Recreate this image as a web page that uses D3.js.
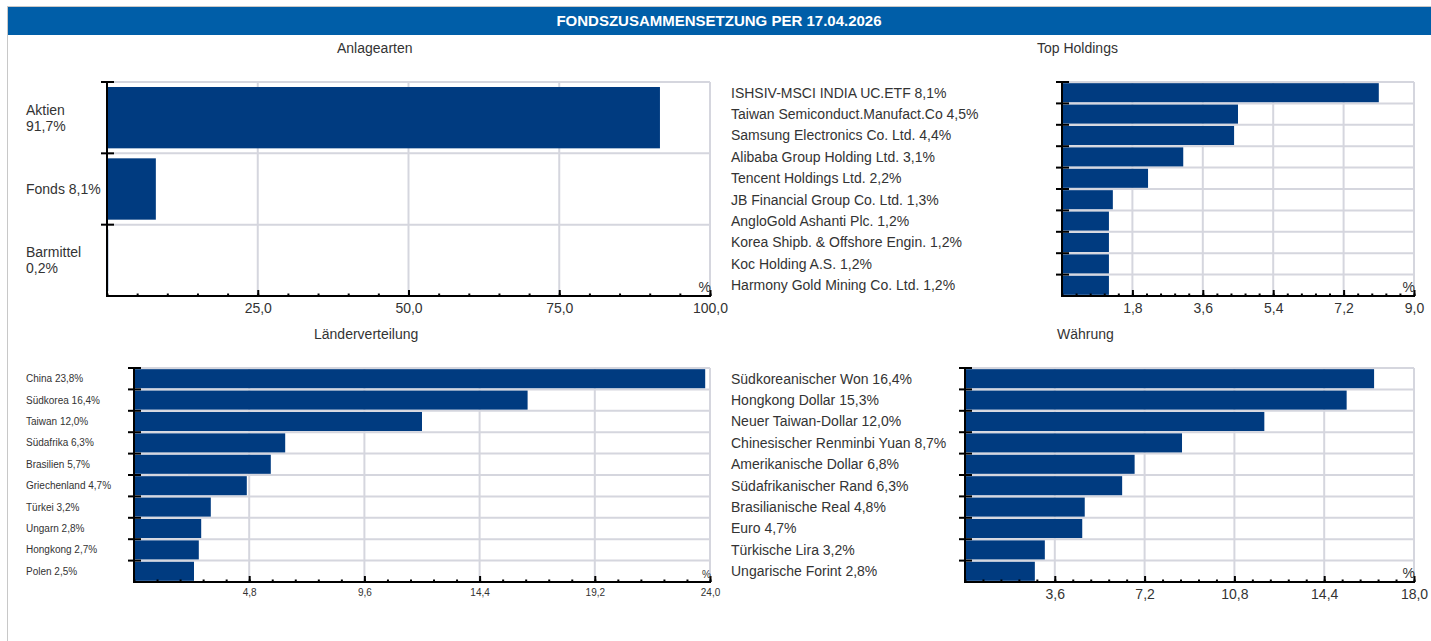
<!DOCTYPE html>
<head>
<meta charset="utf-8">
<style>
  body { margin: 0; background: white; font-family: "Liberation Sans", Arial, sans-serif; }
  text { fill: #333; }
  .grid { stroke: #d5d6de; stroke-width: 2px; }
  .bar { fill: #003b80; }
  .achse { stroke: black; stroke-width: 2px; }
</style>
</head>
<body>
<svg width="1431" height="641"></svg>
<script src="https://cdn.jsdelivr.net/npm/d3@7"></script>
<script>

// --- data ---
var anlageKategorien = ["Aktien", "Fonds", "Barmittel"];
var anlageWerte = [91.7, 8.1, 0.2];
var anlageUmbruch = [true, false, true];
var anlageTicks = [25, 50, 75, 100];

var holdingNamen = ["ISHSIV-MSCI INDIA UC.ETF", "Taiwan Semiconduct.Manufact.Co", "Samsung Electronics Co. Ltd.",
  "Alibaba Group Holding Ltd.", "Tencent Holdings Ltd.", "JB Financial Group Co. Ltd.", "AngloGold Ashanti Plc.",
  "Korea Shipb. & Offshore Engin.", "Koc Holding A.S.", "Harmony Gold Mining Co. Ltd."];
var holdingWerte = [8.1, 4.5, 4.4, 3.1, 2.2, 1.3, 1.2, 1.2, 1.2, 1.2];
var holdingTicks = [1.8, 3.6, 5.4, 7.2, 9.0];

var laenderNamen = ["China", "Südkorea", "Taiwan", "Südafrika", "Brasilien", "Griechenland", "Türkei", "Ungarn", "Hongkong", "Polen"];
var laenderWerte = [23.8, 16.4, 12.0, 6.3, 5.7, 4.7, 3.2, 2.8, 2.7, 2.5];
var laenderTicks = [4.8, 9.6, 14.4, 19.2, 24.0];

var waehrungNamen = ["Südkoreanischer Won", "Hongkong Dollar", "Neuer Taiwan-Dollar", "Chinesischer Renminbi Yuan",
  "Amerikanische Dollar", "Südafrikanischer Rand", "Brasilianische Real", "Euro", "Türkische Lira", "Ungarische Forint"];
var waehrungWerte = [16.4, 15.3, 12.0, 8.7, 6.8, 6.3, 4.8, 4.7, 3.2, 2.8];
var waehrungTicks = [3.6, 7.2, 10.8, 14.4, 18.0];

var fmt = function(v) { return d3.format(".1f")(v).replace(".", ","); };

var svg = d3.select("svg");

// rahmen + kopf
svg.append("rect").attr("x", 7.5).attr("y", 6.5).attr("width", 1440).attr("height", 700)
  .attr("fill", "none").attr("stroke", "#c8c8c8");
svg.append("rect").attr("x", 8).attr("y", 7).attr("width", 1423).attr("height", 28).attr("fill", "#005ea8");
svg.append("text").attr("x", 719).attr("y", 26).attr("text-anchor", "middle")
  .style("fill", "white").style("font-weight", "bold").style("font-size", "15px")
  .text("FONDSZUSAMMENSETZUNG PER 17.04.2026");

function chart(o) {
  var g = svg.append("g");
  var max = o.ticks[o.ticks.length - 1];
  var x = d3.scaleLinear().domain([0, max]).range([o.x0, o.x1]);
  var y = d3.scaleBand().domain(d3.range(o.werte.length)).range([o.top, o.bottom])
    .paddingInner(o.pad).paddingOuter(o.pad / 2);
  var step = y.step();

  g.append("text").attr("x", o.titelX).attr("y", o.titelY).style("font-size", "14px").text(o.titel);

  // gitter
  g.selectAll(".hg").data(d3.range(o.werte.length)).enter().append("line")
    .attr("class", "grid")
    .attr("x1", o.x0).attr("x2", o.x1)
    .attr("y1", d => o.top + d * step).attr("y2", d => o.top + d * step);
  g.selectAll(".vg").data(o.ticks).enter().append("line")
    .attr("class", "grid")
    .attr("x1", d => x(d)).attr("x2", d => x(d))
    .attr("y1", o.top).attr("y2", o.bottom);

  // balken
  g.selectAll(".bar").data(o.werte).enter().append("rect")
    .attr("class", "bar")
    .attr("x", o.x0)
    .attr("y", (d, i) => y(i))
    .attr("width", d => x(d) - o.x0)
    .attr("height", y.bandwidth());

  // x achse: kleine ticks
  var minor = d3.range(0, max + 1e-9, o.ticks[0] / 5);
  g.append("g").attr("transform", "translate(0," + o.bottom + ")")
    .call(d3.axisBottom(x).tickValues(minor).tickSize(-2.5).tickFormat(""))
    .call(a => a.select(".domain").remove())
    .selectAll("line").attr("stroke", "black").attr("stroke-width", 2);

  var ax = g.append("g").attr("transform", "translate(0," + o.bottom + ")")
    .call(d3.axisBottom(x).tickValues(o.ticks).tickSize(-6).tickPadding(o.tickPad).tickFormat(fmt).tickSizeOuter(0));
  ax.select(".domain").attr("class", "achse").attr("d", "M" + (o.x0 - 1) + ",0H" + (o.x1 + 1));
  ax.selectAll("line").attr("stroke", "black").attr("stroke-width", 2);
  ax.selectAll("text").style("fill", "#333").style("font-size", o.tickFont + "px")
    .style("font-family", "Liberation Sans, Arial, sans-serif");

  g.append("text").attr("x", o.x1 + 1).attr("y", o.bottom - 4).attr("text-anchor", "end")
    .style("font-size", o.tickFont + "px").text("%");

  // y achse
  g.append("line").attr("class", "achse")
    .attr("x1", o.x0).attr("x2", o.x0).attr("y1", o.top).attr("y2", o.bottom + 1);
  g.selectAll(".yt").data(d3.range(o.werte.length)).enter().append("line")
    .attr("stroke", "black").attr("stroke-width", 2)
    .attr("x1", o.x0 - 6).attr("x2", o.x0 + 7)
    .attr("y1", d => o.top + d * step).attr("y2", d => o.top + d * step);

  // beschriftung
  var lab = g.selectAll(".lab").data(o.namen).enter().append("text")
    .attr("x", o.labX)
    .attr("y", (d, i) => y(i) + y.bandwidth() / 2)
    .style("font-size", o.labFont + "px");
  lab.each(function(d, i) {
    var t = d3.select(this);
    var zeilen = (o.umbruch && o.umbruch[i]) ? [d, fmt(o.werte[i]) + "%"] : [d + " " + fmt(o.werte[i]) + "%"];
    var lh = 16;
    zeilen.forEach(function(z, k) {
      t.append("tspan").attr("x", o.labX)
        .attr("dy", k === 0 ? (0.35 * o.labFont - (zeilen.length - 1) * lh / 2) : lh)
        .text(z);
    });
  });
}

chart({ titel: "Anlagearten", titelX: 337, titelY: 53,
  namen: anlageKategorien, werte: anlageWerte, umbruch: anlageUmbruch, ticks: anlageTicks,
  x0: 107, x1: 710, top: 82, bottom: 296, pad: 0.14, labX: 26, labFont: 14, tickFont: 14, tickPad: 7 });

chart({ titel: "Top Holdings", titelX: 1037, titelY: 53,
  namen: holdingNamen, werte: holdingWerte, ticks: holdingTicks,
  x0: 1062, x1: 1414, top: 82, bottom: 296, pad: 0.11, labX: 731, labFont: 14, tickFont: 14, tickPad: 7 });

chart({ titel: "Länderverteilung", titelX: 314, titelY: 339,
  namen: laenderNamen, werte: laenderWerte, ticks: laenderTicks,
  x0: 134, x1: 710, top: 368, bottom: 582, pad: 0.11, labX: 26, labFont: 10, tickFont: 10, tickPad: 7 });

chart({ titel: "Währung", titelX: 1057, titelY: 339,
  namen: waehrungNamen, werte: waehrungWerte, ticks: waehrungTicks,
  x0: 965, x1: 1414, top: 368, bottom: 582, pad: 0.11, labX: 731, labFont: 14, tickFont: 14, tickPad: 7 });

</script>
</body>
